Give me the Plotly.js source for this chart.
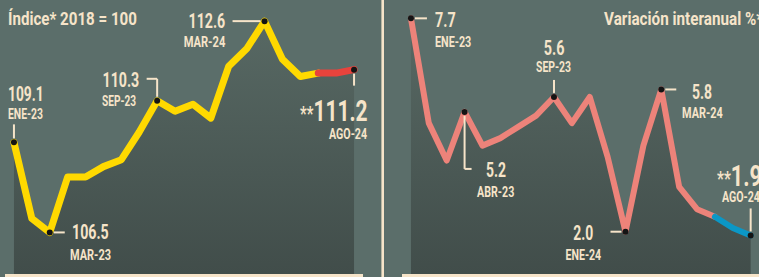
<!DOCTYPE html>
<html>
<head>
<meta charset="utf-8">
<script src="https://cdn.plot.ly/plotly-3.0.1.min.js"></script>
<style>
html,body{margin:0;padding:0;background:#5b6e6a;}
#chart{width:759px;height:277px;}
.scatterlayer .js-line{stroke-linejoin:round;stroke-linecap:round;}
</style>
</head>
<body>
<div id="chart"></div>
<script>
// ---- data ----
const meses = ['ENE-23','FEB-23','MAR-23','ABR-23','MAY-23','JUN-23','JUL-23','AGO-23','SEP-23','OCT-23','NOV-23','DIC-23',
               'ENE-24','FEB-24','MAR-24','ABR-24','MAY-24','JUN-24','JUL-24','AGO-24'];
const indice = [109.1,106.9,106.5,108.1,108.1,108.4,108.6,109.4,110.3,110.0,110.2,109.8,
                111.3,111.8,112.6,111.5,111.0,111.1,111.1,111.2];
const variacion = [7.7,4.9,3.9,5.2,4.3,4.5,4.8,5.1,5.6,4.9,5.6,4.0,
                   2.0,4.3,5.8,3.2,2.6,2.4,2.1,1.9];
const etiquetasIndice = [0,2,8,14,19];
const etiquetasVariacion = [0,3,8,12,14,19];
const inicioPreliminar = 17;
const tituloIndice = 'Índice* 2018 = 100';
const tituloVariacion = 'Variación interanual %*';

// ---- styles ----
const W = 759, H = 277;
const CREAM = '#f6e4c9';
const BG = '#5b6e6a';
const FONT = 'Roboto, "Liberation Sans", sans-serif';
const idx = meses.map((_, i) => i);

const yL = [105.30, 113.21];
const yR = [0.87, 8.19];

function lineTrace(xa, ya, vals, from, to, color, width) {
  return {
    x: idx.slice(from, to + 1), y: vals.slice(from, to + 1),
    xaxis: xa, yaxis: ya, type: 'scatter', mode: 'lines',
    line: {color: color, width: width, shape: 'linear'},
    hoverinfo: 'skip', showlegend: false
  };
}
function fillTrace(xa, ya, vals, range) {
  return {
    x: idx, y: vals, xaxis: xa, yaxis: ya, type: 'scatter', mode: 'lines',
    line: {width: 0}, fill: 'tozeroy',
    fillgradient: {type: 'vertical', start: range[0], stop: range[1] - (range[1]-range[0])*0.1,
      colorscale: [[0, '#414d4a'], [1, '#576863']]},
    hoverinfo: 'skip', showlegend: false
  };
}
function dotTrace(xa, ya, vals, list) {
  return {
    x: list, y: list.map(i => vals[i]), xaxis: xa, yaxis: ya, type: 'scatter', mode: 'markers',
    marker: {color: '#141414', size: 6, line: {width: 0}},
    hoverinfo: 'skip', showlegend: false
  };
}

const data = [
  fillTrace('x', 'y', indice, yL),
  lineTrace('x', 'y', indice, 0, inicioPreliminar, '#ffd900', 7),
  lineTrace('x', 'y', indice, inicioPreliminar, meses.length - 1, '#e8433c', 7),
  dotTrace('x', 'y', indice, etiquetasIndice),
  fillTrace('x2', 'y2', variacion, yR),
  lineTrace('x2', 'y2', variacion, 0, inicioPreliminar, '#ed837a', 6),
  lineTrace('x2', 'y2', variacion, inicioPreliminar, meses.length - 1, '#0b97c6', 6),
  dotTrace('x2', 'y2', variacion, etiquetasVariacion)
];

// annotations anchored to data points; each keeps a target drawn width (condensed look)
const annotations = [];
const anchoW = [];
function lab(xr, yr, i, vals, text, size, xanchor, xs, ys, w) {
  annotations.push({xref: xr, yref: yr, x: i, y: vals[i], text: text, showarrow: false,
    xanchor: xanchor, yanchor: 'middle', xshift: xs, yshift: ys,
    font: {family: FONT, size: size, color: CREAM, weight: 'bold'}});
  anchoW.push(w);
}
function head(px, text, w) {
  annotations.push({xref: 'paper', yref: 'paper', x: px / W, y: 1 - 19 / H, text: text, showarrow: false,
    xanchor: 'left', yanchor: 'middle', font: {family: FONT, size: 18, color: CREAM, weight: 'bold'}});
  anchoW.push(w);
}
function lead(xr, yr, i, vals, x0, x1, y0, y1) {
  return {type: 'line', xref: xr, yref: yr, xsizemode: 'pixel', ysizemode: 'pixel',
    xanchor: i, yanchor: vals[i], x0: x0, x1: x1, y0: y0, y1: y1,
    line: {color: CREAM, width: 2}, layer: 'above'};
}
const V = 21, D = 14, BIG = 30;
const fmt = v => v.toFixed(1);
const star = t => '<span style="font-size:21px">**</span>' + t;

head(6, tituloIndice, 129);
head(601.5, tituloVariacion, 160);
// left panel
lab('x', 'y', 0, indice, fmt(indice[0]), V, 'left', -8, 48, 35.7);
lab('x', 'y', 0, indice, meses[0], D, 'left', -8, 28, 35);
lab('x', 'y', 2, indice, fmt(indice[2]), V, 'left', 20.5, 0, 36.7);
lab('x', 'y', 2, indice, meses[2], D, 'left', 18, -22.5, 41);
lab('x', 'y', 8, indice, fmt(indice[8]), V, 'right', -16.5, 21, 36.7);
lab('x', 'y', 8, indice, meses[8], D, 'right', -19, 0, 34);
lab('x', 'y', 14, indice, fmt(indice[14]), V, 'right', -38, 0, 36.7);
lab('x', 'y', 14, indice, meses[14], D, 'right', -38, -20.5, 41.7);
lab('x', 'y', 19, indice, star(fmt(indice[19])), BIG, 'right', 15.5, -40.5, 67.6);
lab('x', 'y', 19, indice, meses[19], D, 'right', 15, -64, 38);
// right panel
lab('x2', 'y2', 0, variacion, fmt(variacion[0]), V, 'left', 22, -1.5, 20.7);
lab('x2', 'y2', 0, variacion, meses[0], D, 'left', 22, -24, 36.3);
lab('x2', 'y2', 3, variacion, fmt(variacion[3]), V, 'left', 19, -58, 20);
lab('x2', 'y2', 3, variacion, meses[3], D, 'left', 10, -80, 37.3);
lab('x2', 'y2', 8, variacion, fmt(variacion[8]), V, 'center', 0, 49, 20.7);
lab('x2', 'y2', 8, variacion, meses[8], D, 'center', 0, 30, 35);
lab('x2', 'y2', 12, variacion, fmt(variacion[12]), V, 'right', -30.5, -1.5, 20);
lab('x2', 'y2', 12, variacion, meses[12], D, 'right', -22.5, -23.3, 35.7);
lab('x2', 'y2', 14, variacion, fmt(variacion[14]), V, 'left', 29, -2.5, 20);
lab('x2', 'y2', 14, variacion, meses[14], D, 'left', 18.5, -24, 40.7);
lab('x2', 'y2', 19, variacion, star(fmt(variacion[19])), BIG, 'left', -36, 60, 45);
lab('x2', 'y2', 19, variacion, meses[19], D, 'left', -31, 38.7, 38);

const shapes = [
  {type: 'line', xref: 'paper', yref: 'paper', x0: 382.7 / W, x1: 382.7 / W, y0: 0, y1: 1,
   line: {color: CREAM, width: 2.6}, layer: 'above'},
  lead('x', 'y', 0, indice, 0, 0, 4, 18),
  lead('x', 'y', 2, indice, 4, 15, 0, 0),
  lead('x', 'y', 8, indice, 0, 0, 4, 22),
  lead('x', 'y', 8, indice, -10.5, 0, 22, 22),
  lead('x', 'y', 14, indice, -32, -4, 0, 0),
  lead('x', 'y', 19, indice, 0, 0, -4, -16),
  lead('x2', 'y2', 0, variacion, 4, 16, 0, 0),
  lead('x2', 'y2', 3, variacion, 0, 0, -4, -57),
  lead('x2', 'y2', 3, variacion, 0, 7, -57, -57),
  lead('x2', 'y2', 8, variacion, 0, 0, 4, 17),
  lead('x2', 'y2', 12, variacion, -15, -4, 0, 0),
  lead('x2', 'y2', 14, variacion, 4, 15, 0, 0),
  lead('x2', 'y2', 19, variacion, 0, 0, 4, 27)
];

const xBase = {showgrid: false, zeroline: false, showticklabels: false, ticks: '',
  showline: true, linecolor: CREAM, linewidth: 3, fixedrange: true};
const yBase = {showgrid: false, zeroline: false, showticklabels: false, ticks: '',
  showline: false, fixedrange: true, domain: [3 / H, 1]};

const layout = {
  width: W, height: H, margin: {l: 0, r: 0, t: 0, b: 0},
  paper_bgcolor: BG, plot_bgcolor: 'rgba(0,0,0,0)',
  xaxis: Object.assign({}, xBase, {domain: [5 / W, 363 / W], range: [-0.5, 19.5], anchor: 'y'}),
  yaxis: Object.assign({}, yBase, {range: yL, anchor: 'x'}),
  xaxis2: Object.assign({}, xBase, {domain: [402 / W, 1], range: [-0.5, 19.466], anchor: 'y2'}),
  yaxis2: Object.assign({}, yBase, {range: yR, anchor: 'x2'}),
  annotations: annotations, shapes: shapes, showlegend: false
};

// condense the drawn text horizontally to match the narrow typeface of the original
function condensar(gd) {
  gd.querySelectorAll('g.annotation').forEach(g => {
    const k = +g.getAttribute('data-index');
    const t = g.querySelector('text.annotation-text');
    if (!t || !anchoW[k]) return;
    t.style.transform = '';
    const w = t.getBBox().width;
    if (!w) return;
    const s = Math.min(1, anchoW[k] / w);
    const a = annotations[k].xanchor;
    t.style.transformBox = 'fill-box';
    t.style.transformOrigin = (a === 'left' ? 'left' : a === 'right' ? 'right' : 'center') + ' center';
    t.style.transform = 'scaleX(' + s.toFixed(4) + ')';
  });
}

const gd = document.getElementById('chart');
Plotly.newPlot(gd, data, layout, {displayModeBar: false, staticPlot: true}).then(condensar);
</script>
</body>
</html>
